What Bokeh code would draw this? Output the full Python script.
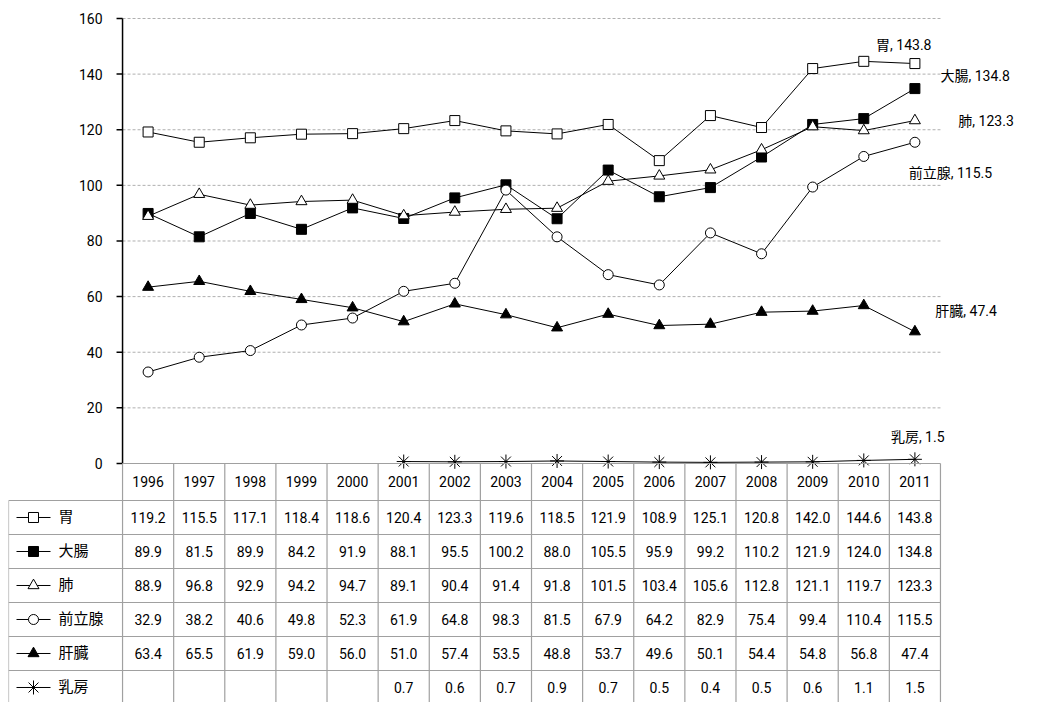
from bokeh.plotting import figure
from bokeh.models import ColumnDataSource, Range1d
from bokeh.core.properties import value
from bokeh.embed import file_html
from bokeh.resources import INLINE

years = [str(y) for y in range(1996, 2012)]
series_names = ["胃", "大腸", "肺", "前立腺", "肝臓", "乳房"]
stomach = [119.2, 115.5, 117.1, 118.4, 118.6, 120.4, 123.3, 119.6, 118.5, 121.9, 108.9, 125.1, 120.8, 142.0, 144.6, 143.8]
colon = [89.9, 81.5, 89.9, 84.2, 91.9, 88.1, 95.5, 100.2, 88.0, 105.5, 95.9, 99.2, 110.2, 121.9, 124.0, 134.8]
lung = [88.9, 96.8, 92.9, 94.2, 94.7, 89.1, 90.4, 91.4, 91.8, 101.5, 103.4, 105.6, 112.8, 121.1, 119.7, 123.3]
prostate = [32.9, 38.2, 40.6, 49.8, 52.3, 61.9, 64.8, 98.3, 81.5, 67.9, 64.2, 82.9, 75.4, 99.4, 110.4, 115.5]
liver = [63.4, 65.5, 61.9, 59.0, 56.0, 51.0, 57.4, 53.5, 48.8, 53.7, 49.6, 50.1, 54.4, 54.8, 56.8, 47.4]
breast = [None, None, None, None, None, 0.7, 0.6, 0.7, 0.9, 0.7, 0.5, 0.4, 0.5, 0.6, 1.1, 1.5]
y_ticks = [0, 20, 40, 60, 80, 100, 120, 140, 160]

all_series = [stomach, colon, lung, prostate, liver, breast]
markers = ["square", "square", "triangle", "circle", "triangle", "asterisk"]
fills = ["white", "black", "white", "white", "black", "white"]
sizes = [10, 10, 11, 10, 11, 14]
end_labels = [(14.24, 150.5), (15.5, 139.5), (15.85, 123.3), (14.88, 104.6), (15.4, 55.0), (14.53, 9.6)]

FONT = value("Roboto, 'Noto Sans CJK JP', sans-serif")
PXX = 51.1    # px per year column
PXY = 2.781   # px per y unit
HEADER = 37 / PXY
ROW = 34 / PXY

p = figure(width=1033, height=702, output_backend="svg", toolbar_location=None,
           min_border=0, min_border_left=8, min_border_top=8,
           x_range=Range1d(-0.5 - 114 / PXX, 15.5 + 93 / PXX),
           y_range=Range1d(-239 / PXY, 160 + 10 / PXY))
p.axis.visible = False
p.grid.visible = False
p.outline_line_color = None

n = len(years)
xs = list(range(n))

# gridlines and y axis
for t in y_ticks[1:]:
    p.line([-0.5, n - 0.5], [t, t], line_color="#b0b0b0", line_dash="3 2", line_width=1)
p.text(x=[-0.5 - 20 / PXX] * len(y_ticks), y=y_ticks, text=[str(t) for t in y_ticks],
       text_align="right", text_baseline="middle", text_font=FONT, text_font_size="14px")
p.segment(x0=[-0.5], y0=[0], x1=[-0.5], y1=[160], line_color="black", line_width=1.5)
p.segment(x0=[-0.5 - 6 / PXX] * len(y_ticks), y0=y_ticks, x1=[-0.5] * len(y_ticks), y1=y_ticks,
          line_color="black", line_width=1.5)

# series
for vals, mk, fc, sz in zip(all_series, markers, fills, sizes):
    sx = [x for x, v in zip(xs, vals) if v is not None]
    sy = [v for v in vals if v is not None]
    src = ColumnDataSource(dict(x=sx, y=sy))
    p.line("x", "y", source=src, line_color="black", line_width=1)
    p.scatter("x", "y", source=src, marker=mk, size=sz,
              fill_color=fc, line_color="black", line_width=1)

for name, vals, (lx, ly) in zip(series_names, all_series, end_labels):
    p.text(x=[lx], y=[ly], text=[f"{name}, {vals[-1]}"], text_font=FONT, text_font_size="14px",
           text_baseline="middle")

# table
gray = "#a0a0a0"
left = -0.5 - 114 / PXX
bottom = -HEADER - ROW * len(series_names)
p.segment(x0=[-0.5] + [left] * len(series_names), y0=[-HEADER] + [-HEADER - ROW * i for i in range(len(series_names))],
          x1=[n - 0.5] * (len(series_names) + 1), y1=[-HEADER] + [-HEADER - ROW * i for i in range(len(series_names))],
          line_color=gray, line_width=1.2)
p.segment(x0=[i - 0.5 for i in range(n + 1)], y0=[0] * (n + 1), x1=[i - 0.5 for i in range(n + 1)],
          y1=[bottom] * (n + 1), line_color=gray, line_width=1.2)
p.segment(x0=[left], y0=[-HEADER], x1=[left], y1=[bottom], line_color=gray, line_width=1.2)
p.segment(x0=[-0.5], y0=[0], x1=[n - 0.5], y1=[0], line_color=gray, line_width=1.2)
p.text(x=xs, y=[-HEADER / 2] * n, text=years, text_align="center", text_baseline="middle",
       text_font=FONT, text_font_size="14px")

for r, (name, vals, mk, fc, sz) in enumerate(zip(series_names, all_series, markers, fills, sizes)):
    cy = -HEADER - ROW * (r + 0.5)
    p.line([left + 8 / PXX, left + 42 / PXX], [cy, cy], line_color="black", line_width=1)
    p.scatter([left + 25 / PXX], [cy], marker=mk, size=sz,
              fill_color=fc, line_color="black")
    p.text(x=[left + 50 / PXX], y=[cy], text=[name], text_baseline="middle",
           text_font=FONT, text_font_size="15px")
    cx = [x for x, v in zip(xs, vals) if v is not None]
    ct = [f"{v:.1f}" for v in vals if v is not None]
    p.text(x=cx, y=[cy] * len(cx), text=ct, text_align="center", text_baseline="middle",
           text_font=FONT, text_font_size="14px")

open("out.html", "w").write(file_html(p, INLINE))
